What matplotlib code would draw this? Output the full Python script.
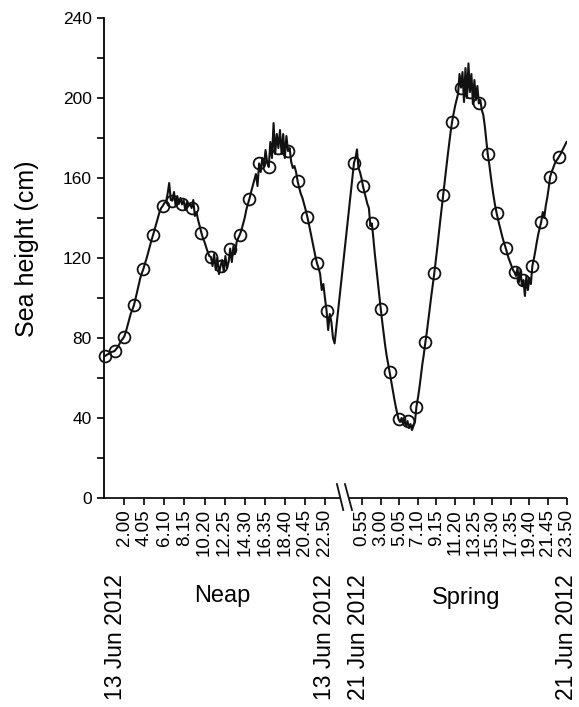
import numpy as np
import matplotlib
matplotlib.use("Agg")
import matplotlib.pyplot as plt
import matplotlib.transforms as mtransforms
from matplotlib.ticker import MultipleLocator

plt.rcParams["font.family"] = ["Liberation Sans", "DejaVu Sans"]

# ------------------------- data -------------------------
# sea height (cm), one value every 10 min, 00:00 -> 23:50
neap_cm = [
    71, 71.5, 72, 72.5, 73, 73.2,
    73.5, 74.5, 75.5, 77, 78.5, 79.5,
    80.7, 83, 86, 89, 92, 94,
    96.3, 99.5, 103, 106.5, 110, 112.5,
    114.7, 117.5, 120, 123, 126, 129,
    131.6, 134.5, 137.5, 140.5, 143, 145,
    146, 147.5, 148, 152, 157.5, 149,
    148.7, 153, 146, 151, 147, 150,
    146.8, 149, 144, 148, 146, 147,
    145, 149, 141, 143, 139, 136,
    132.7, 130, 128, 125.5, 123, 121,
    120.5, 116, 122, 114, 120, 112,
    116.2, 119, 113, 121, 115, 118,
    124.7, 118, 126, 122, 128, 130,
    131.7, 134, 137, 140, 144, 147,
    149.7, 153, 156, 159, 162, 156,
    167.3, 163, 170, 166, 174, 168,
    165.5, 178, 170, 187.5, 172, 182,
    175, 184, 172, 182, 170, 181,
    173.5, 175, 168, 165, 166, 163,
    158.3, 155, 152, 150, 147, 144,
    140.7, 137, 133, 129, 125, 121,
    117.5, 115, 112, 104, 107, 100,
    93.7, 84, 92, 88, 80, 77.3,
]

spring_cm = [
    167.7, 170, 174.3, 165, 163, 160,
    156, 153, 150, 147, 145, 136,
    137.3, 130, 122, 115, 108, 101,
    94.5, 88, 82, 76, 71, 67,
    62.8, 58.5, 54, 50, 46, 42.5,
    39.3, 38, 40, 37, 39, 36,
    38.5, 35, 37, 34, 36, 38,
    45.7, 50, 55, 61, 67, 72,
    77.8, 83, 89, 95, 101, 106.5,
    112.3, 118.5, 125, 132, 138.5, 145,
    151.5, 158, 164.5, 171, 177, 183,
    188.2, 192, 196, 199, 202, 212,
    205.2, 213, 198, 215, 200, 217.3,
    203, 212, 197, 209, 199, 206,
    197.3, 199, 194, 191.5, 186, 179,
    171.8, 167, 161, 155.5, 150.5, 146,
    142.3, 139, 136, 133, 130, 127.5,
    125.2, 122.5, 120, 118, 116, 114,
    112.8, 111, 115, 108, 114, 106,
    109, 101, 111, 104, 110, 107,
    116, 119.5, 123.5, 128, 132, 135,
    138.2, 143, 140, 146, 150, 155,
    160.7, 163, 165, 167, 168.5, 169.5,
    170.7, 172, 173.5, 175, 176.5, 178,
]

neap_ticks = ["2.00", "4.05", "6.10", "8.15", "10.20", "12.25",
              "14.30", "16.35", "18.40", "20.45", "22.50"]
spring_ticks = ["0.55", "3.00", "5.05", "7.10", "9.15", "11.20",
                "13.25", "15.30", "17.35", "19.40", "21.45", "23.50"]

neap_date = "13 Jun 2012"
spring_date = "21 Jun 2012"

# ------------------------- layout -------------------------
STEP_H = 1.0 / 6.0          # 10 min samples
SPRING_X0 = 25.85           # where the spring day starts on the shared axis
SPRING_SCALE = 0.9254       # spring day is drawn a bit tighter
X_MIN, X_MAX = -0.07, 47.92
BREAK_X = (24.39, 25.27)    # spine gap
INK = "#111111"


def hm_to_hours(s):
    h, m = s.split(".")
    return int(h) + int(m) / 60.0


def spring_to_x(t):
    return SPRING_X0 + SPRING_SCALE * np.asarray(t, dtype=float)


neap_t = np.arange(len(neap_cm)) * STEP_H
spring_t = np.arange(len(spring_cm)) * STEP_H
neap_x = neap_t
spring_x = spring_to_x(spring_t)

fig = plt.figure(figsize=(5.79, 7.07), dpi=100)
ax = fig.add_axes([0.1801, 0.2956, 0.7986, 0.6789])

x_all = np.concatenate([neap_x, spring_x])
y_all = np.concatenate([neap_cm, spring_cm])
ax.plot(x_all, y_all, color=INK, lw=1.5, zorder=3)

# hourly readings as open circles
mk = dict(marker="o", linestyle="None", markersize=8.5, markerfacecolor="none",
          markeredgecolor=INK, markeredgewidth=1.3, clip_on=False, zorder=4)
ax.plot(neap_x[::6], np.asarray(neap_cm)[::6], **mk)
ax.plot(spring_x[::6], np.asarray(spring_cm)[::6], **mk)

ax.set_xlim(X_MIN, X_MAX)
ax.set_ylim(0, 240)

# y axis
ax.yaxis.set_major_locator(MultipleLocator(40))
ax.yaxis.set_minor_locator(MultipleLocator(20))
ax.tick_params(axis="y", which="both", direction="out", length=5, width=1.2,
               labelsize=12.5, pad=4)
ax.set_ylabel("Sea height (cm)", fontsize=18)
ax.yaxis.set_label_coords(-0.141, 0.52)

# x axis
tick_pos = [hm_to_hours(s) for s in neap_ticks] + \
           list(spring_to_x([hm_to_hours(s) for s in spring_ticks]))
ax.set_xticks(tick_pos)
ax.set_xticklabels(neap_ticks + spring_ticks, rotation=90, fontsize=13.5)
ax.tick_params(axis="x", direction="out", length=5, width=1.2, pad=3)

for side in ["top", "right", "bottom"]:
    ax.spines[side].set_visible(False)
ax.spines["left"].set_linewidth(1.3)

# bottom spine with a break
trans = mtransforms.blended_transform_factory(ax.transData, ax.transAxes)
ax.plot([X_MIN, BREAK_X[0]], [0, 0], color=INK, lw=1.3, transform=trans,
        clip_on=False, solid_capstyle="butt")
ax.plot([BREAK_X[1], X_MAX], [0, 0], color=INK, lw=1.3, transform=trans,
        clip_on=False, solid_capstyle="butt")
for x0, x1 in [(24.08, 24.73), (24.91, 25.64)]:
    ax.plot([x0, x1], [0.029, -0.025], color=INK, lw=1.3, transform=trans,
            clip_on=False)

# date / period labels under the axis
date_y = -0.42
for xpos, txt in [(1.1, neap_date), (22.83, neap_date),
                  (26.3, spring_date), (47.9, spring_date)]:
    ax.text(xpos, date_y, txt, transform=trans, rotation=90, fontsize=16.5,
            ha="center", va="bottom")
ax.text(12.13, -0.205, "Neap", transform=trans, fontsize=17, ha="center", va="center")
ax.text(37.5, -0.208, "Spring", transform=trans, fontsize=17, ha="center", va="center")

fig.savefig("out.png", dpi=100)
